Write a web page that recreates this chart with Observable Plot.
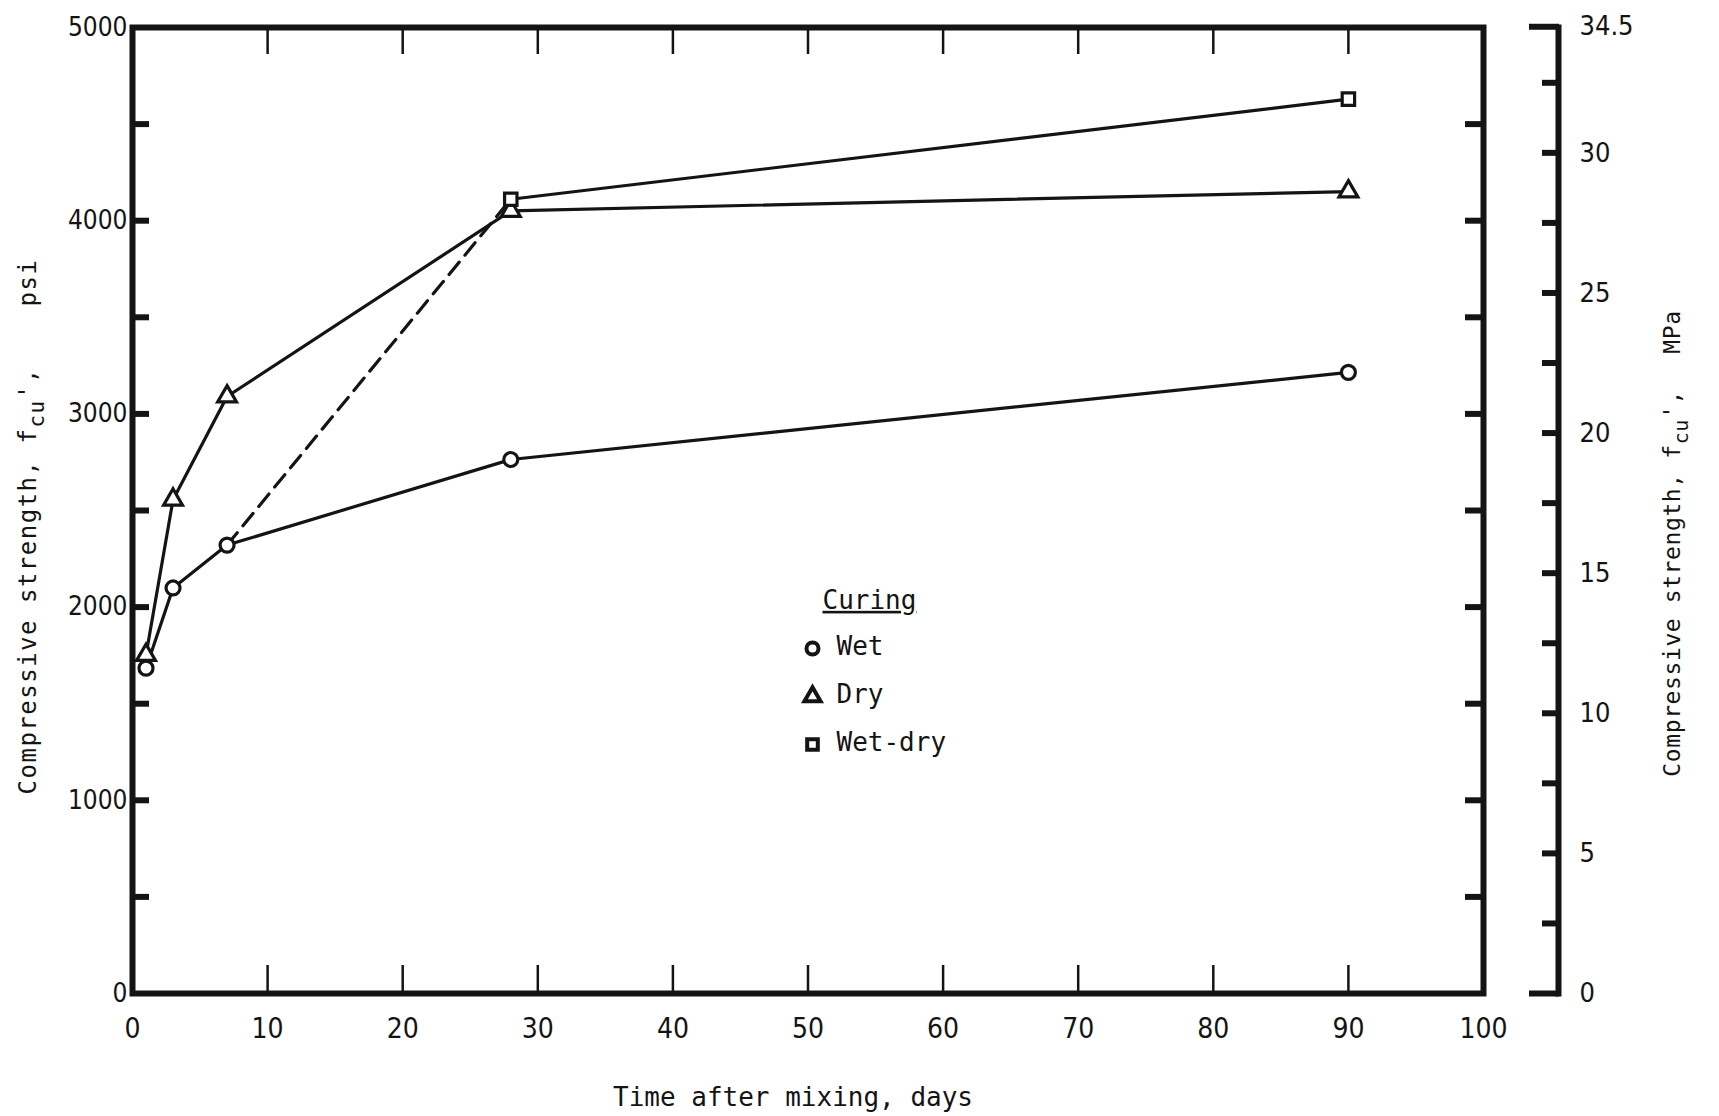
<!DOCTYPE html>
<html>
<head>
<meta charset="utf-8">
<script src="https://cdn.jsdelivr.net/npm/d3@7"></script>
<script src="https://cdn.jsdelivr.net/npm/@observablehq/plot@0.6"></script>
<style>
  html, body { margin: 0; padding: 0; background: #ffffff; }
  svg { display: block; }
</style>
</head>
<body>
<div id="chart"></div>
<script>
// ---------------- data ----------------
const days = [1, 3, 7, 28, 90];
const wet = [1684, 2099, 2321, 2764, 3215];
const dry = [1752, 2556, 3090, 4051, 4151];
const wetDryDays = [7, 28, 90];
const wetDry = [2321, 4111, 4629];

const xTickLabels = [0, 10, 20, 30, 40, 50, 60, 70, 80, 90, 100];
const xInnerTicks = [10, 20, 30, 40, 50, 60, 70, 80, 90];
const psiLabels = [0, 1000, 2000, 3000, 4000, 5000];
const psiTicks = [500, 1000, 1500, 2000, 2500, 3000, 3500, 4000, 4500];
const mpaLabels = [0, 5, 10, 15, 20, 25, 30, 34.5];
const mpaTicks = [2.5, 5, 7.5, 10, 12.5, 15, 17.5, 20, 22.5, 25, 27.5, 30, 32.5];
const mpaEndTicks = [0, 34.5];
const legendTitle = "Curing";
const legendLabels = ["Wet", "Dry", "Wet-dry"];
const legendSymbols = ["circle", "triangle", "square"];
const xTitle = "Time after mixing, days";
const yTitleLeft = "Compressive strength, f_cu', psi";
const yTitleRight = "Compressive strength, f_cu', MPa";
const PSI_PER_MPA = 145.038;

// ---------------- build tables ----------------
const wetRows = days.map((d, i) => ({day: d, psi: wet[i]}));
const dryRows = days.map((d, i) => ({day: d, psi: dry[i]}));
const wdRows = wetDryDays.map((d, i) => ({day: d, psi: wetDry[i]}));

const ink = "#141414";
const tickFont = "'DejaVu Sans Condensed', 'DejaVu Sans', sans-serif";
const monoFont = "'DejaVu Sans Mono', 'Liberation Mono', monospace";
const noText = () => "";

const legendMarks = [];
legendMarks.push(Plot.text([legendTitle], {
  frameAnchor: "top-left", dx: 822 - 132, dy: 600 - 27, text: d => d,
  textAnchor: "start", lineAnchor: "middle", fontFamily: monoFont, fontSize: 26, fill: ink
}));
legendLabels.forEach((lab, i) => {
  legendMarks.push(Plot.dot([lab], {
    frameAnchor: "top-left", dx: 812 - 132, dy: 648 - 27 + i * 48,
    symbol: legendSymbols[i], r: 6, stroke: ink, strokeWidth: 4, fill: "white"
  }));
  legendMarks.push(Plot.text([lab], {
    frameAnchor: "top-left", dx: 836 - 132, dy: 646 - 27 + i * 48, text: d => d,
    textAnchor: "start", lineAnchor: "middle", fontFamily: monoFont, fontSize: 26, fill: ink
  }));
});

const chart = Plot.plot({
  width: 1719,
  height: 1116,
  marginLeft: 132,
  marginRight: 236,
  marginTop: 27,
  marginBottom: 123,
  x: {domain: [0, 100], label: null},
  y: {domain: [0, 5000], label: null},
  style: {background: "#ffffff", color: ink, fontFamily: tickFont},
  marks: [
    // frame
    Plot.frame({stroke: ink, strokeWidth: 6}),
    // inward ticks on left & right of frame
    Plot.axisY(psiTicks, {anchor: "left", tickSize: 17, dx: 17, strokeWidth: 6, stroke: ink, tickFormat: noText, label: null}),
    Plot.axisY(psiTicks, {anchor: "right", tickSize: 19, dx: -19, strokeWidth: 6, stroke: ink, tickFormat: noText, label: null}),
    // inward ticks on top & bottom of frame
    Plot.axisX(xInnerTicks, {anchor: "top", tickSize: 26, dy: 26, strokeWidth: 2.5, stroke: ink, tickFormat: noText, label: null}),
    Plot.axisX(xInnerTicks, {anchor: "bottom", tickSize: 28, dy: -28, strokeWidth: 2.5, stroke: ink, tickFormat: noText, label: null}),
    // tick labels
    Plot.axisX(xTickLabels, {anchor: "bottom", tickSize: 0, tickPadding: 25, fontSize: 28, fill: ink, fontFamily: tickFont, tickFormat: d => String(d), label: null}),
    Plot.axisY(psiLabels, {anchor: "left", tickSize: 0, tickPadding: 5, fontSize: 26, fill: ink, fontFamily: tickFont, tickFormat: d => String(d), label: null}),
    // secondary MPa axis
    Plot.frame({anchor: "right", dx: 75, stroke: ink, strokeWidth: 6}),
    Plot.axisY(mpaTicks.map(m => m * PSI_PER_MPA), {anchor: "right", tickSize: 17, dx: 75 - 17, strokeWidth: 6, stroke: ink, tickFormat: noText, label: null}),
    Plot.axisY(mpaEndTicks.map(m => m * PSI_PER_MPA), {anchor: "right", tickSize: 30, dx: 75 - 30, strokeWidth: 6, stroke: ink, tickFormat: noText, label: null}),
    Plot.text(mpaLabels, {y: d => d * PSI_PER_MPA, text: d => String(d), frameAnchor: "right", dx: 96, textAnchor: "start", fontSize: 27, fill: ink, fontFamily: tickFont}),
    // axis titles
    Plot.text([xTitle], {frameAnchor: "bottom", dx: -15, dy: 112, text: d => d, textAnchor: "middle", fontFamily: monoFont, fontSize: 26, fill: ink}),
    Plot.text([yTitleLeft], {frameAnchor: "left", dx: -104, dy: 16, rotate: -90, text: d => d, textAnchor: "middle", fontFamily: monoFont, fontSize: 24, fill: ink, className: "ytitle-left"}),
    Plot.text([yTitleRight], {frameAnchor: "right", dx: 189, dy: 33, rotate: -90, text: d => d, textAnchor: "middle", fontFamily: monoFont, fontSize: 23, fill: ink, className: "ytitle-right"}),
    // data lines
    Plot.line(wetRows, {x: "day", y: "psi", stroke: ink, strokeWidth: 3.2}),
    Plot.line(dryRows, {x: "day", y: "psi", stroke: ink, strokeWidth: 3.2}),
    Plot.line(wdRows.slice(0, 2), {x: "day", y: "psi", stroke: ink, strokeWidth: 3.2, strokeDasharray: "16,9"}),
    Plot.line(wdRows.slice(1), {x: "day", y: "psi", stroke: ink, strokeWidth: 3.2}),
    // data markers
    Plot.dot(wetRows, {x: "day", y: "psi", symbol: "circle", r: 7, stroke: ink, strokeWidth: 3.2, fill: "white"}),
    Plot.dot(dryRows, {x: "day", y: "psi", symbol: "triangle", r: 7, stroke: ink, strokeWidth: 3.2, fill: "white"}),
    Plot.dot(wdRows.slice(1), {x: "day", y: "psi", symbol: "square", r: 7, stroke: ink, strokeWidth: 3.2, fill: "white"}),
    ...legendMarks
  ]
});

// subscripts in axis titles, underline legend title
d3.select(chart).selectAll("text").each(function () {
  const t = this.textContent;
  if (t.includes("_cu")) {
    const isLeft = t.endsWith("psi");
    const [a, b] = t.split("_cu");
    const cut = b.lastIndexOf(" ");
    const sel = d3.select(this);
    sel.text(null);
    sel.style("letter-spacing", isLeft ? "1.5px" : "0.6px");
    sel.append("tspan").text(a);
    sel.append("tspan").attr("dy", 8).attr("font-size", isLeft ? 21 : 20).text("cu");
    sel.append("tspan").attr("dy", -8).text(b.slice(0, cut + 1));
    sel.append("tspan").attr("dx", isLeft ? 45 : 22).text(b.slice(cut + 1));
  } else if (t === legendTitle) {
    d3.select(this).style("text-decoration", "underline");
  }
});

document.getElementById("chart").appendChild(chart);
</script>
</body>
</html>
